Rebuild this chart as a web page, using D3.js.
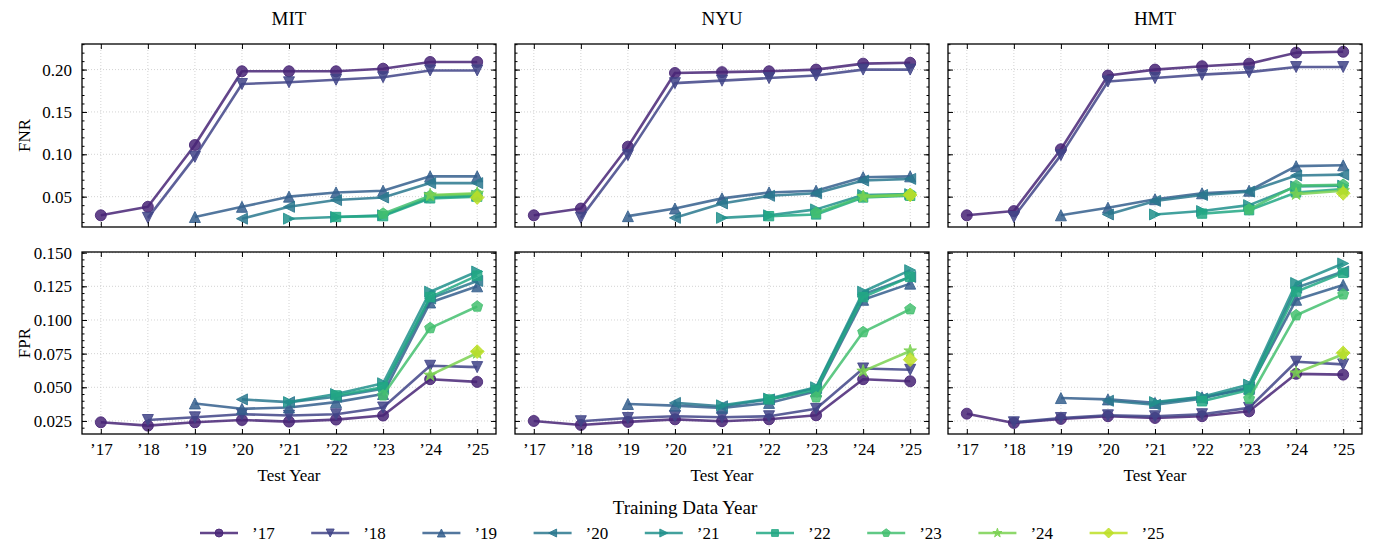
<!DOCTYPE html>
<html>
<head>
<meta charset="utf-8">
<script src="https://cdn.jsdelivr.net/npm/d3@7"></script>
<style>
body { margin: 0; background: #fff; }
svg text { font-family: "Liberation Serif", "Times New Roman", serif !important; fill: #000; }
</style>
</head>
<body>
<svg id="chart" width="1374" height="544"></svg>
<script>

// test years on the x axis, training years = legend entries
var years = ["\u201917", "\u201918", "\u201919", "\u201920", "\u201921", "\u201922", "\u201923", "\u201924", "\u201925"];
var datasets = ["MIT", "NYU", "HMT"];
var metrics = ["FNR", "FPR"];
var shapes = ["o", "v", "^", "<", ">", "s", "p", "*", "D"];

// each row = one training year, starting at its own test year
var fnrMIT = [
  [0.028, 0.038, 0.111, 0.198, 0.198, 0.198, 0.201, 0.209, 0.209],
  [0.025, 0.097, 0.183, 0.185, 0.188, 0.191, 0.199, 0.199],
  [0.026, 0.038, 0.050, 0.055, 0.057, 0.074, 0.074],
  [0.024, 0.038, 0.046, 0.049, 0.066, 0.066],
  [0.024, 0.026, 0.028, 0.049, 0.051],
  [0.026, 0.027, 0.048, 0.050],
  [0.030, 0.051, 0.053],
  [0.052, 0.054],
  [0.049]
];
var fnrNYU = [
  [0.028, 0.036, 0.109, 0.196, 0.197, 0.198, 0.200, 0.207, 0.208],
  [0.025, 0.099, 0.184, 0.187, 0.190, 0.193, 0.200, 0.200],
  [0.027, 0.036, 0.048, 0.055, 0.057, 0.073, 0.074],
  [0.025, 0.042, 0.051, 0.054, 0.069, 0.071],
  [0.025, 0.028, 0.035, 0.052, 0.053],
  [0.027, 0.029, 0.049, 0.051],
  [0.031, 0.050, 0.053],
  [0.050, 0.052],
  [0.052]
];
var fnrHMT = [
  [0.028, 0.033, 0.106, 0.193, 0.200, 0.204, 0.207, 0.220, 0.221],
  [0.026, 0.099, 0.186, 0.190, 0.194, 0.197, 0.203, 0.203],
  [0.028, 0.037, 0.047, 0.054, 0.057, 0.086, 0.087],
  [0.029, 0.045, 0.052, 0.056, 0.075, 0.076],
  [0.029, 0.033, 0.040, 0.062, 0.063],
  [0.030, 0.034, 0.055, 0.059],
  [0.035, 0.063, 0.064],
  [0.053, 0.057],
  [0.054]
];
var fprMIT = [
  [0.024, 0.0215, 0.024, 0.0257, 0.0245, 0.026, 0.029, 0.056, 0.054],
  [0.0257, 0.0277, 0.030, 0.029, 0.030, 0.035, 0.066, 0.065],
  [0.038, 0.034, 0.035, 0.039, 0.045, 0.113, 0.125],
  [0.041, 0.039, 0.043, 0.049, 0.116, 0.129],
  [0.039, 0.045, 0.053, 0.121, 0.136],
  [0.044, 0.050, 0.117, 0.133],
  [0.044, 0.094, 0.110],
  [0.059, 0.0755],
  [0.0765]
];
var fprNYU = [
  [0.025, 0.022, 0.0243, 0.0262, 0.0248, 0.0262, 0.0292, 0.056, 0.0545],
  [0.0248, 0.0272, 0.0285, 0.0277, 0.0285, 0.034, 0.064, 0.063],
  [0.0376, 0.0364, 0.0347, 0.0384, 0.047, 0.115, 0.127],
  [0.0384, 0.0359, 0.041, 0.0495, 0.119, 0.132],
  [0.0366, 0.0416, 0.050, 0.121, 0.137],
  [0.041, 0.048, 0.117, 0.132],
  [0.0426, 0.091, 0.108],
  [0.062, 0.077],
  [0.0705]
];
var fprHMT = [
  [0.0304, 0.0235, 0.0265, 0.0285, 0.0272, 0.0285, 0.0322, 0.060, 0.0594],
  [0.024, 0.0272, 0.0292, 0.0285, 0.030, 0.0347, 0.069, 0.067],
  [0.042, 0.041, 0.0384, 0.0426, 0.049, 0.115, 0.126],
  [0.040, 0.037, 0.0416, 0.050, 0.124, 0.136],
  [0.039, 0.043, 0.052, 0.1275, 0.142],
  [0.0396, 0.048, 0.121, 0.135],
  [0.0416, 0.1035, 0.119],
  [0.0606, 0.0745],
  [0.0755]
];

var fnrTicks = [0.05, 0.10, 0.15, 0.20];
var fprTicks = [0.025, 0.050, 0.075, 0.100, 0.125, 0.150];

var panelData = [[fnrMIT, fnrNYU, fnrHMT], [fprMIT, fprNYU, fprHMT]];

var serif = "'Liberation Serif', 'Times New Roman', serif";
var svg = d3.select("#chart").attr("font-family", serif);
svg.append("rect").attr("width", 1374).attr("height", 544).style("fill", "#fff");

var colx = [82, 515, 948];
var panelw = 414;
var rowy = [44, 252];
var rowh = [183, 182];
var ydomains = [[0.0142, 0.2302], [0.0153, 0.1505]];
var majorTicks = [fnrTicks, fprTicks];
var minorStep = [0.01, 0.005];
var tickFmt = [d3.format(".2f"), d3.format(".3f")];
var alpha = 0.85;

function color(i) {
  return d3.interpolateViridis((i + 1) / 10);
}

function poly(pts) {
  return "M" + pts.map(function(p) { return p[0].toFixed(2) + "," + p[1].toFixed(2); }).join("L") + "Z";
}

// matplotlib-like marker shapes
function shapePath(shape, r) {
  var pts = [];
  if (shape == "o") return d3.symbol(d3.symbolCircle, Math.PI * r * r)();
  if (shape == "^") return poly([[0, -r], [-r, r], [r, r]]);
  if (shape == "v") return poly([[0, r], [-r, -r], [r, -r]]);
  if (shape == "<") return poly([[-r, 0], [r, -r], [r, r]]);
  if (shape == ">") return poly([[r, 0], [-r, -r], [-r, r]]);
  if (shape == "s") { var h = r * 0.85; return poly([[-h, -h], [h, -h], [h, h], [-h, h]]); }
  if (shape == "p") {
    for (var k = 0; k < 5; k++) {
      var a = -Math.PI / 2 + k * 2 * Math.PI / 5;
      pts.push([Math.cos(a) * r * 1.05, Math.sin(a) * r * 1.05]);
    }
    return poly(pts);
  }
  if (shape == "*") {
    for (var k = 0; k < 10; k++) {
      var a = -Math.PI / 2 + k * Math.PI / 5;
      var rr = (k % 2 == 0) ? r * 1.2 : r * 0.46;
      pts.push([Math.cos(a) * rr, Math.sin(a) * rr]);
    }
    return poly(pts);
  }
  if (shape == "D") { var d = r * 1.25; return poly([[0, -d], [d, 0], [0, d], [-d, 0]]); }
}

for (var row = 0; row < 2; row++) {
  for (var col = 0; col < 3; col++) {
    var x0 = colx[col], y0 = rowy[row], h = rowh[row];
    var x = d3.scaleLinear().domain([-0.4, 8.4]).range([x0, x0 + panelw]);
    var y = d3.scaleLinear().domain(ydomains[row]).range([y0 + h, y0]);
    var g = svg.append("g");

    // dotted grid
    g.selectAll(".gx").data(d3.range(9)).enter().append("line")
      .attr("x1", function(d) { return x(d); }).attr("x2", function(d) { return x(d); })
      .attr("y1", y0).attr("y2", y0 + h)
      .style("stroke", "#c8c8c8").style("stroke-width", 0.8).style("stroke-dasharray", "1,2");
    g.selectAll(".gy").data(majorTicks[row]).enter().append("line")
      .attr("x1", x0).attr("x2", x0 + panelw)
      .attr("y1", function(d) { return y(d); }).attr("y2", function(d) { return y(d); })
      .style("stroke", "#c8c8c8").style("stroke-width", 0.8).style("stroke-dasharray", "1,2");

    // series
    var series = panelData[row][col];
    series.forEach(function(vals, i) {
      var pts = vals.map(function(v, j) { return [i + j, v]; });
      var sg = g.append("g");
      sg.append("path")
        .datum(pts)
        .attr("d", d3.line().x(function(d) { return x(d[0]); }).y(function(d) { return y(d[1]); }))
        .style("fill", "none").style("stroke", color(i)).style("stroke-width", 2.6)
        .style("stroke-opacity", alpha).style("stroke-linejoin", "round");
      sg.selectAll(".m").data(pts).enter().append("path")
        .attr("transform", function(d) { return "translate(" + x(d[0]) + "," + y(d[1]) + ")"; })
        .attr("d", shapePath(shapes[i], 5.5))
        .style("fill", color(i)).style("fill-opacity", alpha)
        .style("stroke", color(i)).style("stroke-opacity", alpha).style("stroke-width", 1);
    });

    // frame
    g.append("rect").attr("x", x0).attr("y", y0).attr("width", panelw).attr("height", h)
      .style("fill", "none").style("stroke", "#000").style("stroke-width", 1.3);

    // ticks pointing inward on all four sides
    var minor = d3.range(0, 0.25, minorStep[row]).filter(function(v) {
      return v >= ydomains[row][0] && v <= ydomains[row][1];
    });
    var showX = row == 1, showY = col == 0;
    var axB = g.append("g").attr("transform", "translate(0," + (y0 + h) + ")")
      .call(d3.axisBottom(x).tickValues(d3.range(9)).tickSize(-5).tickPadding(9)
        .tickFormat(function(d) { return showX ? years[d] : ""; }));
    var axT = g.append("g").attr("transform", "translate(0," + y0 + ")")
      .call(d3.axisTop(x).tickValues(d3.range(9)).tickSize(-5).tickFormat(""));
    var axL = g.append("g").attr("transform", "translate(" + x0 + ",0)")
      .call(d3.axisLeft(y).tickValues(majorTicks[row]).tickSize(-5).tickPadding(10)
        .tickFormat(function(d) { return showY ? tickFmt[row](d) : ""; }));
    var axLm = g.append("g").attr("transform", "translate(" + x0 + ",0)")
      .call(d3.axisLeft(y).tickValues(minor).tickSize(-2.5).tickFormat(""));
    var axR = g.append("g").attr("transform", "translate(" + (x0 + panelw) + ",0)")
      .call(d3.axisRight(y).tickValues(majorTicks[row]).tickSize(-5).tickFormat(""));
    var axRm = g.append("g").attr("transform", "translate(" + (x0 + panelw) + ",0)")
      .call(d3.axisRight(y).tickValues(minor).tickSize(-2.5).tickFormat(""));
    [axB, axT, axL, axLm, axR, axRm].forEach(function(a) {
      a.attr("font-family", serif).attr("font-size", 17);
      a.select(".domain").remove();
      a.selectAll("line").style("stroke", "#000").style("stroke-width", 1);
    });

    if (row == 0) {
      svg.append("text").attr("x", x0 + panelw / 2).attr("y", 25)
        .attr("text-anchor", "middle").style("font-size", "19px").text(datasets[col]);
    }
    if (row == 1) {
      svg.append("text").attr("x", x0 + panelw / 2).attr("y", 481)
        .attr("text-anchor", "middle").style("font-size", "17px").text("Test Year");
    }
    if (col == 0) {
      svg.append("text")
        .attr("transform", "translate(30," + (y0 + h / 2) + ") rotate(-90)")
        .attr("text-anchor", "middle").style("font-size", "17px").text(metrics[row]);
    }
  }
}

// legend
svg.append("text").attr("x", 685).attr("y", 514).attr("text-anchor", "middle")
  .style("font-size", "19px").text("Training Data Year");
years.forEach(function(lab, i) {
  var cx = 219 + i * 111.2, cy = 533;
  var lg = svg.append("g");
  lg.append("line").attr("x1", cx - 19).attr("x2", cx + 19).attr("y1", cy).attr("y2", cy)
    .style("stroke", color(i)).style("stroke-width", 2.6).style("stroke-opacity", alpha);
  lg.append("path").attr("transform", "translate(" + cx + "," + cy + ")")
    .attr("d", shapePath(shapes[i], 4))
    .style("fill", color(i)).style("fill-opacity", alpha)
    .style("stroke", color(i)).style("stroke-opacity", alpha).style("stroke-width", 1);
  lg.append("text").attr("x", cx + 33).attr("y", cy + 6).style("font-size", "17px").text(lab);
});

</script>
</body>
</html>
